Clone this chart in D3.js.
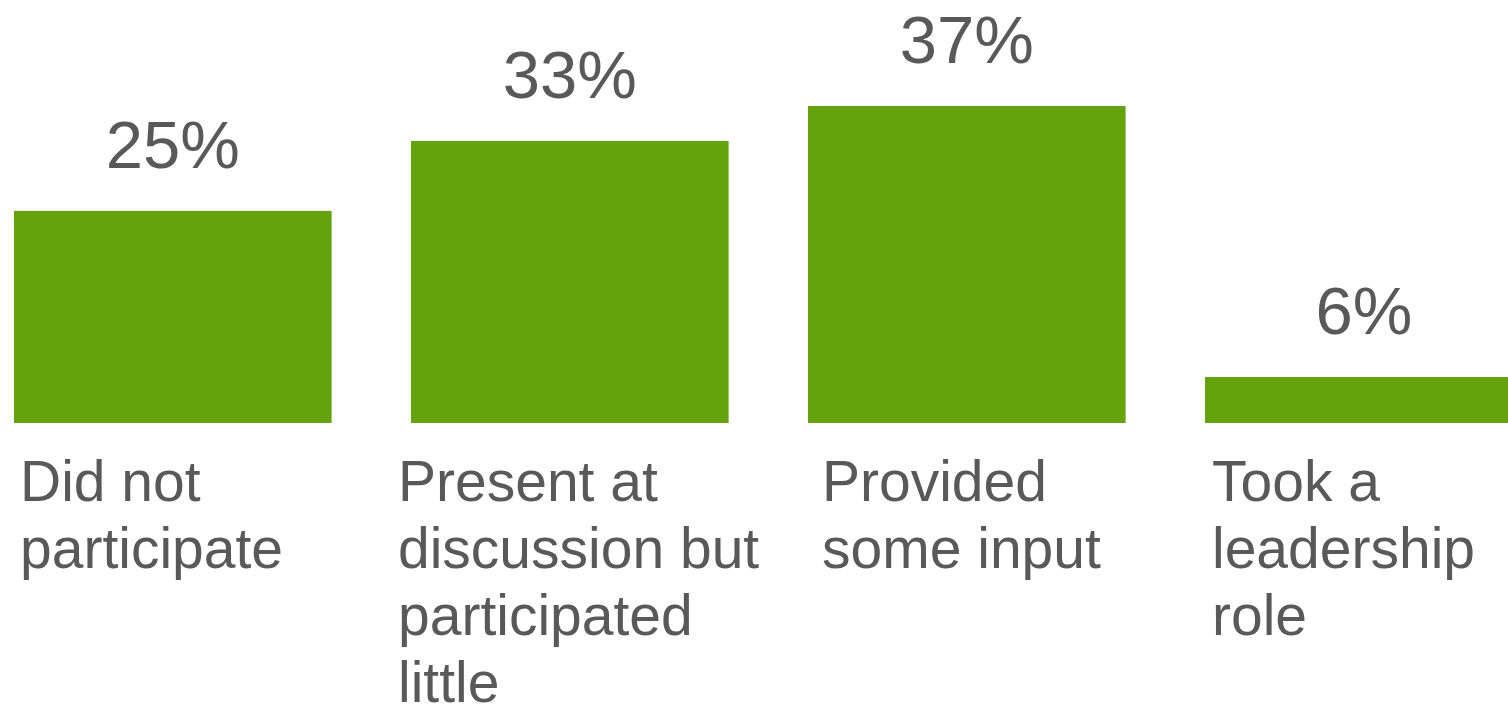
<!DOCTYPE html>
<html>
<head>
<meta charset="utf-8">
<script src="https://cdn.jsdelivr.net/npm/d3@7"></script>
<style>
  html, body { margin: 0; padding: 0; background: #ffffff; overflow: hidden; }
  svg { display: block; }
  text { font-family: "Liberation Sans", Arial, sans-serif; fill: #595959; }
</style>
</head>
<body>
<svg id="chart" width="1508" height="705"></svg>
<script>
// ---- data ----
const categories = ["Did not participate", "Present at discussion but participated little", "Provided some input", "Took a leadership role"];
const categoryLines = [
  ["Did not", "participate"],
  ["Present at", "discussion but", "participated", "little"],
  ["Provided", "some input"],
  ["Took a", "leadership", "role"]
];
const values = [25, 33, 37, 6];
const valueLabels = ["25%", "33%", "37%", "6%"];

// ---- layout ----
const labelDx = [6, -13, 14, 7];
const baseline = 423;

const svg = d3.select("#chart");

const x = d3.scaleBand()
  .domain(categories)
  .range([14 - 0.1 * 397, 14 - 0.1 * 397 + 4 * 397])
  .paddingInner(0.2)
  .paddingOuter(0.1);

// value axis does not start at exactly zero in the original
const y = d3.scaleLinear()
  .domain([0.74, 37])
  .range([baseline, 106]);

const data = categories.map((c, i) => ({ c, v: values[i], label: valueLabels[i], lines: categoryLines[i], dx: labelDx[i] }));

svg.selectAll("rect.bar")
  .data(data)
  .join("rect")
  .attr("class", "bar")
  .attr("x", d => x(d.c))
  .attr("y", d => y(d.v))
  .attr("width", x.bandwidth())
  .attr("height", d => baseline - y(d.v))
  .attr("fill", "#64a30c");

svg.selectAll("text.value")
  .data(data)
  .join("text")
  .attr("class", "value")
  .attr("x", d => x(d.c) + x.bandwidth() / 2)
  .attr("y", d => y(d.v) - 43)
  .attr("text-anchor", "middle")
  .style("font-size", "67px")
  .text(d => d.label);

const cat = svg.selectAll("text.cat")
  .data(data)
  .join("text")
  .attr("class", "cat")
  .attr("x", d => x(d.c) + d.dx)
  .attr("y", 501)
  .style("font-size", "57px");

cat.selectAll("tspan")
  .data(d => d.lines.map((t, i) => ({ t, i, x: x(d.c) + d.dx })))
  .join("tspan")
  .attr("x", t => t.x)
  .attr("dy", t => t.i === 0 ? 0 : 67)
  .text(t => t.t);
</script>
</body>
</html>
